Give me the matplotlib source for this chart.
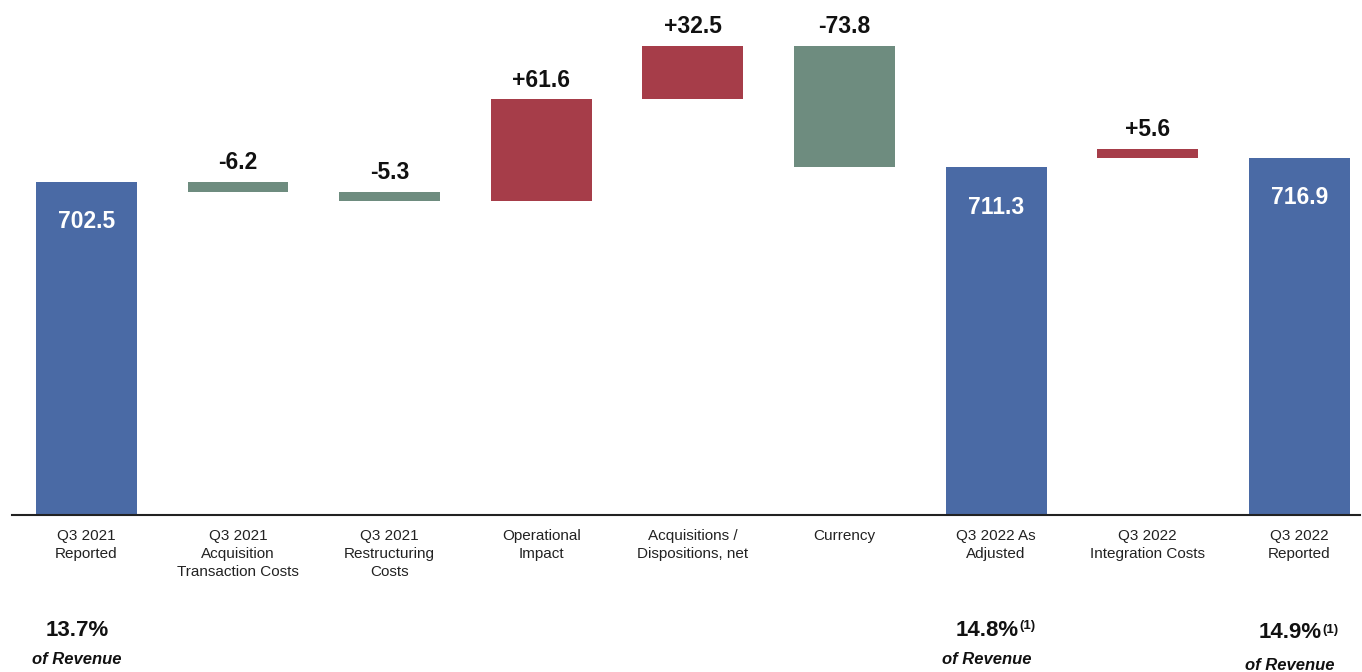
import numpy as np
import matplotlib
matplotlib.use("Agg")
import matplotlib.pyplot as plt

# Waterfall data (USD millions)
categories = [
    "Q3 2021\nReported",
    "Q3 2021\nAcquisition\nTransaction Costs",
    "Q3 2021\nRestructuring\nCosts",
    "Operational\nImpact",
    "Acquisitions /\nDispositions, net",
    "Currency",
    "Q3 2022 As\nAdjusted",
    "Q3 2022\nIntegration Costs",
    "Q3 2022\nReported",
]
values = [702.5, -6.2, -5.3, 61.6, 32.5, -73.8, 711.3, 5.6, 716.9]
kinds = ["total", "delta", "delta", "delta", "delta", "delta", "total", "delta", "total"]
pct_labels = {0: ("13.7%", False), 6: ("14.8%", True), 8: ("14.9%", True)}

BLUE = "#4a6aa5"
RED = "#a63d49"
GREEN = "#6e8c7f"

plt.rcParams["font.family"] = ["Liberation Sans", "DejaVu Sans"]

fig = plt.figure(figsize=(13.62, 6.72), dpi=100)
ax = fig.add_axes([12 / 1362, 1 - 515 / 672, 1348 / 1362, (515 - 20) / 672])

x = np.arange(len(values))
bottoms, heights, colors = [], [], []
running = 0.0
for i, (v, k) in enumerate(zip(values, kinds)):
    if k == "total":
        bottoms.append(0)
        heights.append(v)
        colors.append(BLUE)
        running = v
    else:
        if i == 7:
            # the source slide draws this step on top of the final total
            base = values[8]
        else:
            base = running
        bottoms.append(min(base, base + v))
        heights.append(abs(v))
        colors.append(RED if v > 0 else GREEN)
        running += v

ax.bar(x, heights, bottom=bottoms, width=0.665, color=colors)

for i, (v, k) in enumerate(zip(values, kinds)):
    top = bottoms[i] + heights[i]
    if k == "total":
        ax.annotate(f"{v:.1f}", xy=(x[i], top), xytext=(0, -40),
                    textcoords="offset pixels", ha="center", va="center",
                    color="white", fontsize=16.5, fontweight="bold")
    else:
        ax.annotate(f"{v:+.1f}", xy=(x[i], top), xytext=(0, 19),
                    textcoords="offset pixels", ha="center", va="center",
                    color="#111111", fontsize=16.5, fontweight="bold")

# percent-of-revenue notes under the axis
for i, (txt, note) in pct_labels.items():
    yoff = 3 if i == 8 else 0
    t = ax.annotate(txt, xy=(x[i] - 0.06, 42 - yoff), xycoords=("data", "figure pixels"),
                    ha="center", va="center", fontsize=16, fontweight="bold",
                    color="#111111")
    if note:
        ax.annotate("(1)", xy=(1.0, 1.0), xycoords=t, xytext=(1, -1),
                    textcoords="offset pixels", ha="left", va="top",
                    fontsize=9.5, fontweight="bold", color="#111111")
    ax.annotate("of Revenue", xy=(x[i] - 0.06, 13 - yoff * 2), xycoords=("data", "figure pixels"),
                ha="center", va="center", fontsize=12, fontweight="bold",
                fontstyle="italic", color="#111111")

ax.set_xlim(-0.49, 8.40)
ax.set_ylim(500, 800.7)
ax.set_xticks(x)
ax.set_xticklabels(categories, fontsize=11, color="#222222", linespacing=1.35)
ax.tick_params(axis="x", length=0, pad=10)
ax.set_yticks([])
for s in ["top", "left", "right"]:
    ax.spines[s].set_visible(False)
ax.spines["bottom"].set_color("#222222")
ax.spines["bottom"].set_linewidth(1.5)

fig.savefig("out.png", dpi=100)
